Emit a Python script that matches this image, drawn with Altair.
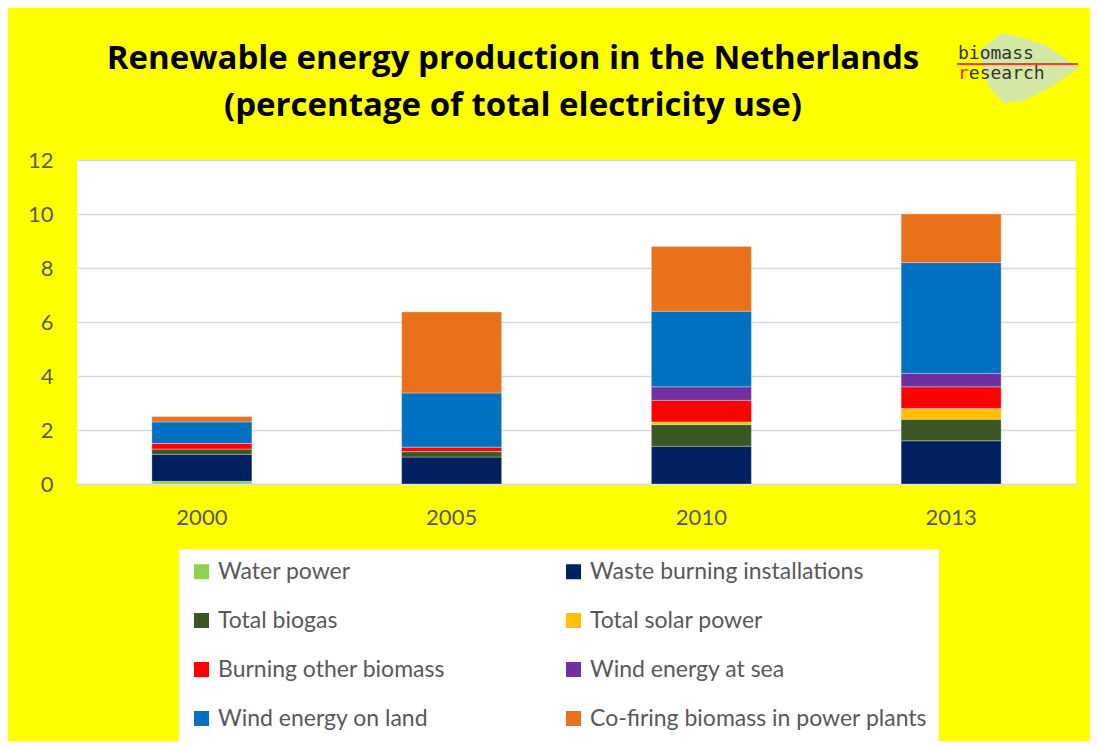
import altair as alt
import pandas as pd

years = ["2000", "2005", "2010", "2013"]
series = ["Water power", "Waste burning installations", "Total biogas", "Total solar power",
          "Burning other biomass", "Wind energy at sea", "Wind energy on land",
          "Co-firing biomass in power plants"]
colors = ["#92d050", "#002060", "#3a5724", "#ffc000", "#ff0000", "#7030a0", "#0070c0", "#e9711c"]

water = [0.1, 0.0, 0.0, 0.0]
waste = [1.0, 1.0, 1.4, 1.6]
biogas = [0.2, 0.2, 0.8, 0.8]
solar = [0.0, 0.0, 0.1, 0.4]
other_biomass = [0.2, 0.17, 0.8, 0.8]
wind_sea = [0.0, 0.0, 0.5, 0.5]
wind_land = [0.8, 2.0, 2.8, 4.1]
cofiring = [0.2, 3.0, 2.4, 1.8]
y_ticks = [0, 2, 4, 6, 8, 10, 12]

title_line1 = "Renewable energy production in the Netherlands"
title_line2 = "(percentage of total electricity use)"

values = [water, waste, biogas, solar, other_biomass, wind_sea, wind_land, cofiring]
rows = []
for si, (name, vals) in enumerate(zip(series, values)):
    for y, v in zip(years, vals):
        rows.append({"year": y, "series": name, "idx": si, "value": v})
df = pd.DataFrame(rows)

# legend fills column by column: reorder so that it reads row by row (2 columns)
legend_order = series[0::2] + series[1::2]
legend_colors = [colors[series.index(s)] for s in legend_order]

bars = alt.Chart(df).mark_bar(size=100, stroke="white", strokeWidth=0.6, strokeOpacity=0.5).encode(
    x=alt.X("year:N", sort=years, scale=alt.Scale(paddingInner=0, paddingOuter=0),
            axis=alt.Axis(title=None, labelAngle=0, ticks=False, domain=True, domainColor="#d9d9d9",
                          domainWidth=1.5, labelPadding=23, labelFontSize=22, labelColor="#595959",
                          labelFont="Lato", grid=False)),
    y=alt.Y("value:Q", stack="zero", scale=alt.Scale(domain=[0, 12], nice=False),
            axis=alt.Axis(title=None, values=y_ticks, ticks=False, domain=False, grid=True,
                          gridColor="#d9d9d9", gridWidth=1.5, labelPadding=24, labelFontSize=22,
                          labelColor="#595959", labelFont="Lato")),
    color=alt.Color("series:N", sort=legend_order,
                    scale=alt.Scale(domain=legend_order, range=legend_colors),
                    legend=alt.Legend(title=None, orient="none", legendX=102, legendY=389,
                                      columns=2, columnPadding=117, rowPadding=25,
                                      symbolType="square", symbolSize=225, symbolStrokeWidth=0,
                                      labelFontSize=23, labelColor="#595959", labelFont="Lato",
                                      labelLimit=500, labelOffset=5, padding=11,
                                      fillColor="white", strokeColor="white")),
    order=alt.Order("idx:Q", sort="ascending"),
)

one = pd.DataFrame({"t": ["x"]})
title1 = alt.Chart(pd.DataFrame({"t": [title_line1]})).mark_text(
    font="Open Sans", fontSize=33, fontWeight="bold", color="black", align="center", baseline="alphabetic"
).encode(x=alt.value(436), y=alt.value(-91), text="t:N")
title2 = alt.Chart(pd.DataFrame({"t": [title_line2]})).mark_text(
    font="Open Sans", fontSize=33, fontWeight="bold", color="black", align="center", baseline="alphabetic"
).encode(x=alt.value(436), y=alt.value(-44), text="t:N")

leaf = alt.Chart(one).mark_point(
    shape="M -1 -0.35 L -0.55 -0.7 L -0.1 -0.6 L 0.35 -0.45 L 1 0 L 0.4 0.4 L -0.1 0.65 L -0.5 0.7 L -0.8 0.4 Z",
    filled=True, color="#d3e6ad", opacity=0.95, size=10000
).encode(x=alt.value(952), y=alt.value(-92))
logo_line = alt.Chart(one).mark_rule(color="#ff3b30", strokeWidth=2).encode(
    x=alt.value(880), x2=alt.value(1001), y=alt.value(-96))
logo_t1 = alt.Chart(pd.DataFrame({"t": ["biomass"]})).mark_text(
    font="DejaVu Sans Mono", fontSize=18, color="#333333", align="left", baseline="alphabetic"
).encode(x=alt.value(881), y=alt.value(-101), text="t:N")
logo_t2 = alt.Chart(pd.DataFrame({"t": ["esearch"]})).mark_text(
    font="DejaVu Sans Mono", fontSize=18, color="#333333", align="left", baseline="alphabetic"
).encode(x=alt.value(891.8), y=alt.value(-81), text="t:N")
logo_r = alt.Chart(pd.DataFrame({"t": ["r"]})).mark_text(
    font="DejaVu Sans Mono", fontSize=18, color="#ff2020", align="left", baseline="alphabetic"
).encode(x=alt.value(881), y=alt.value(-81), text="t:N")

chart = alt.layer(bars, title1, title2, leaf, logo_line, logo_t1, logo_t2, logo_r).properties(
    width=999, height=324,
    autosize=alt.AutoSizeParams(type="none"),
    padding={"left": 69, "top": 152, "right": 14, "bottom": 257},
    background="#ffff00",
).configure_view(fill="white", stroke=None)

chart.save("out.html", embed_options={"renderer": "svg", "actions": False})
